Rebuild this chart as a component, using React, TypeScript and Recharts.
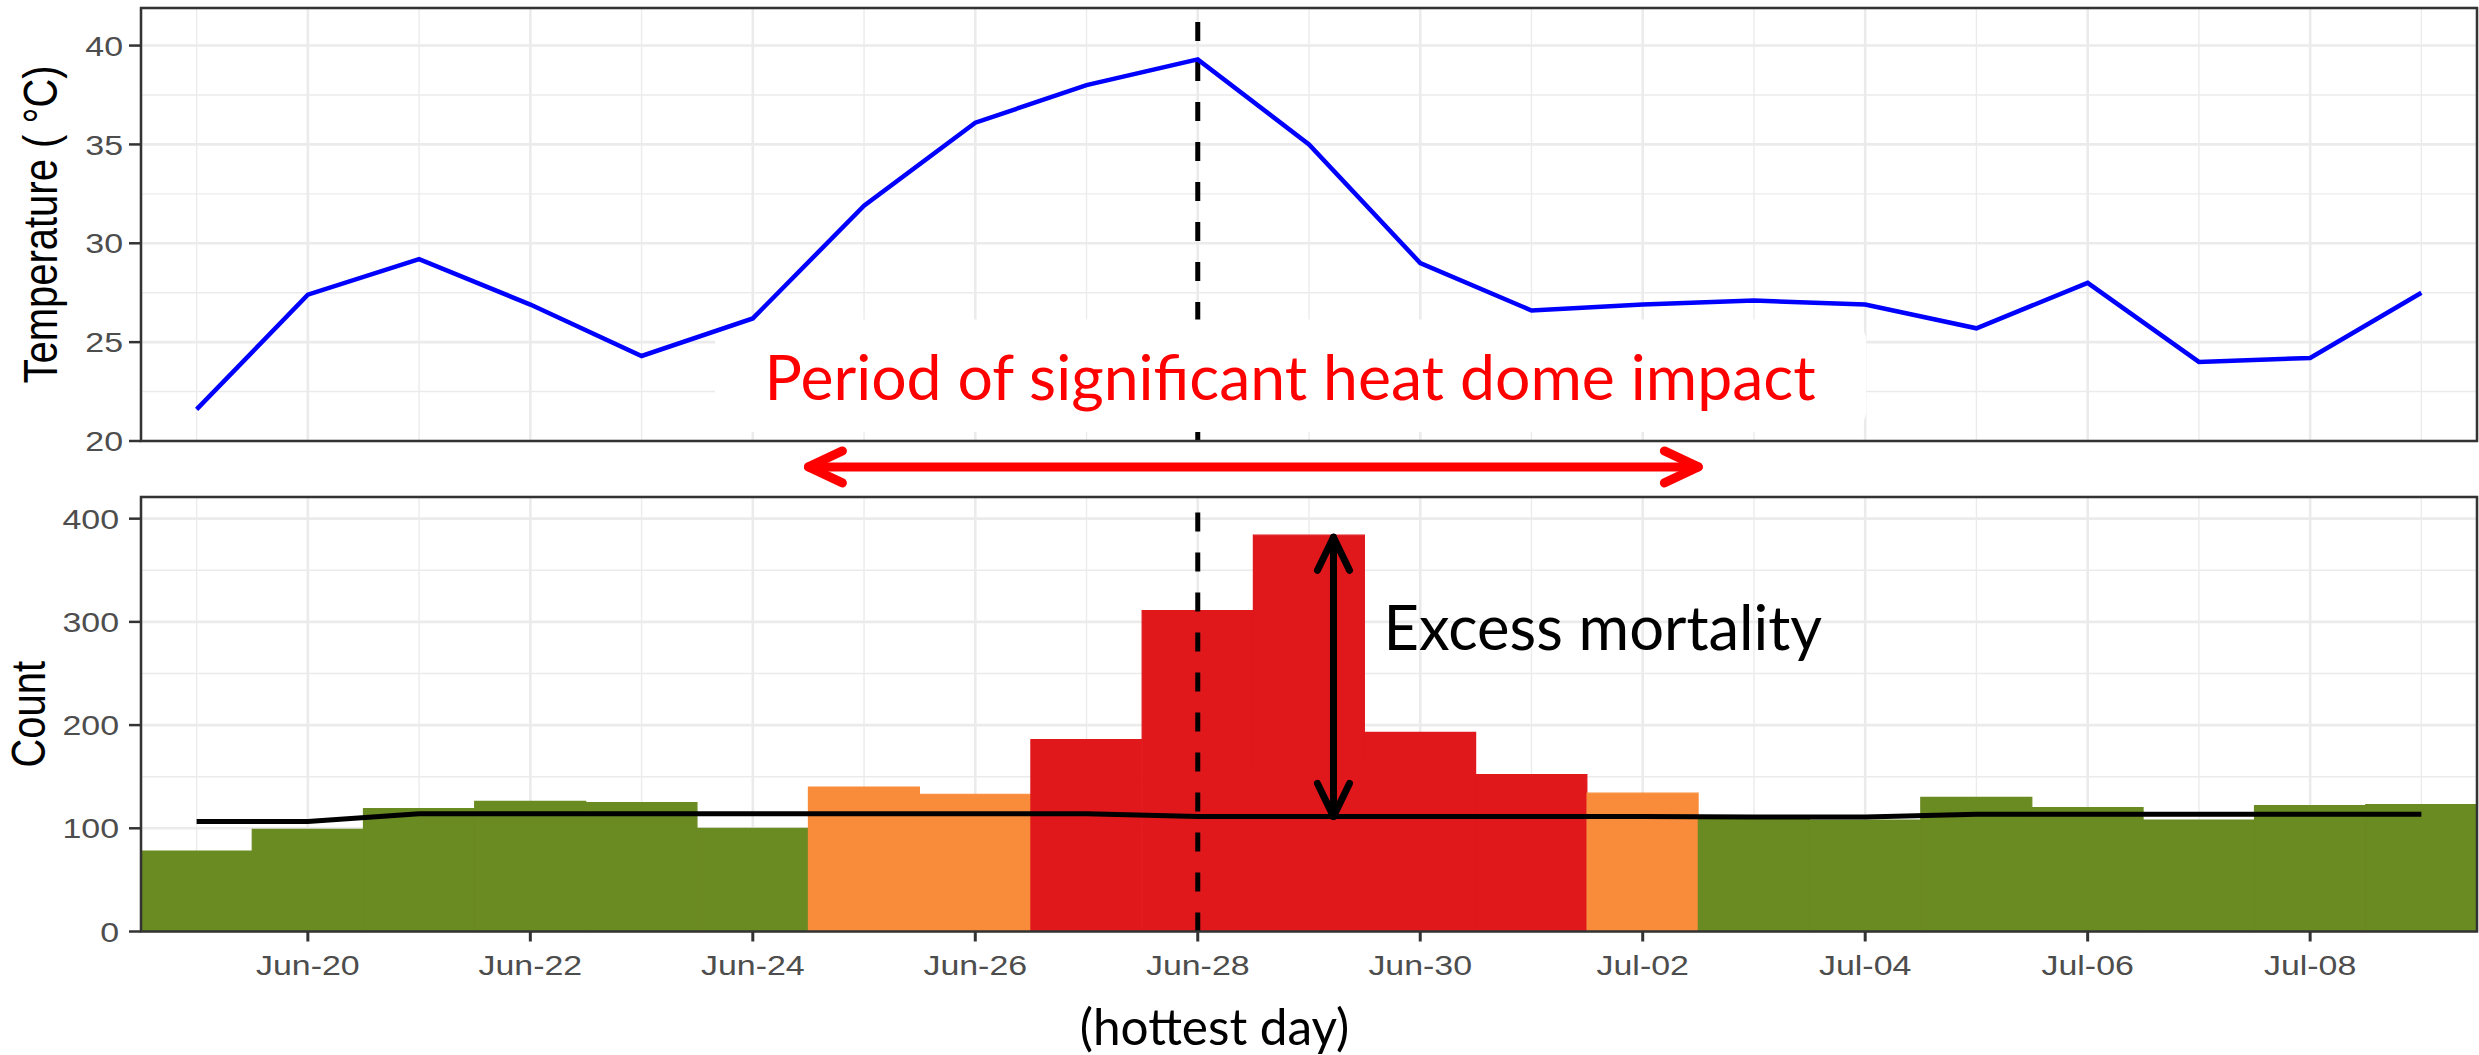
import {
  ComposedChart,
  Bar,
  Line,
  XAxis,
  YAxis,
  CartesianGrid,
  ReferenceLine,
  ReferenceArea,
  ReferenceDot,
  Cell,
} from 'recharts'

// ---- data ----
const DATES = [
  'Jun-19', 'Jun-20', 'Jun-21', 'Jun-22', 'Jun-23', 'Jun-24', 'Jun-25',
  'Jun-26', 'Jun-27', 'Jun-28', 'Jun-29', 'Jun-30', 'Jul-01', 'Jul-02',
  'Jul-03', 'Jul-04', 'Jul-05', 'Jul-06', 'Jul-07', 'Jul-08', 'Jul-09',
]
const FIRST_DAY = 19 // Jun-19, counted from Jun-01

const TEMPERATURE = [
  21.6, 27.4, 29.2, 26.9, 24.3, 26.2, 31.9, 36.1, 38.0, 39.3, 35.0,
  29.0, 26.6, 26.9, 27.1, 26.9, 25.7, 28.0, 24.0, 24.2, 27.5,
]
const DEATHS = [
  78, 99, 119, 126, 125, 100, 140, 133, 186, 311, 384,
  193, 152, 134, 111, 108, 130, 120, 108, 122, 123,
]
const BASELINE = [
  106.5, 106.5, 114, 114, 114, 114, 114, 114, 114, 111.5, 111.5,
  111.5, 111.5, 111.5, 111, 111, 113.5, 113.5, 113.5, 113.5, 113.5,
]
const PERIOD = [
  'normal', 'normal', 'normal', 'normal', 'normal', 'normal', 'moderate',
  'moderate', 'severe', 'severe', 'severe', 'severe', 'severe', 'moderate',
  'normal', 'normal', 'normal', 'normal', 'normal', 'normal', 'normal',
]

const X_TICKS = [20, 22, 24, 26, 28, 30, 32, 34, 36, 38]
const X_TICK_LABELS = ['Jun-20', 'Jun-22', 'Jun-24', 'Jun-26', 'Jun-28', 'Jun-30', 'Jul-02', 'Jul-04', 'Jul-06', 'Jul-08']
const X_MINOR = [19, 21, 23, 25, 27, 29, 31, 33, 35, 37, 39]
const TEMP_TICKS = [20, 25, 30, 35, 40]
const TEMP_MINOR = [22.5, 27.5, 32.5, 37.5]
const COUNT_TICKS = [0, 100, 200, 300, 400]
const COUNT_MINOR = [50, 150, 250, 350]

const HOTTEST_DAY = 28
const X_DOMAIN = [18.5, 39.5]
const TEMP_DOMAIN = [20, 41.9]
const COUNT_DOMAIN = [0, 421]

const COLORS: Record<string, string> = {
  normal: '#6A8A22',
  moderate: '#F98C3A',
  severe: '#E0181B',
}

const rows = DATES.map((date, i) => ({
  date,
  day: FIRST_DAY + i,
  temp: TEMPERATURE[i],
  deaths: DEATHS[i],
  baseline: BASELINE[i],
}))

// ---- styling ----
const W = 2479
const STRETCH = 1.19 // the ggplot part of the figure is stretched horizontally
const AXIS_FONT = '"Liberation Sans", Arial, sans-serif'
const NOTE_FONT = 'Lato, "Open Sans", sans-serif'
const GRID = '#EBEBEB'
const DARK = '#333333'

function XTick({ x, y, payload }: any) {
  const idx = X_TICKS.indexOf(payload.value)
  return (
    <text
      transform={`translate(${x},${y}) scale(${STRETCH},1)`}
      textAnchor="middle"
      dy="0.71em"
      fill="#4D4D4D"
      fontSize={28.5}
      fontFamily={AXIS_FONT}
    >
      {X_TICK_LABELS[idx]}
    </text>
  )
}

function YTick({ x, y, payload }: any) {
  return (
    <text
      transform={`translate(${x},${y}) scale(${STRETCH},1)`}
      textAnchor="end"
      dy="0.355em"
      fill="#4D4D4D"
      fontSize={28.5}
      fontFamily={AXIS_FONT}
    >
      {payload.value}
    </text>
  )
}

function axisTitle(text: string, cx: number) {
  return ({ viewBox }: any) => {
    const cy = viewBox.y + viewBox.height / 2
    return (
      <text
        transform={`translate(${viewBox.x + cx},${cy}) scale(${STRETCH},1) rotate(-90)`}
        textAnchor="middle"
        dy="0.355em"
        fill="#000"
        fontSize={40}
        fontFamily={AXIS_FONT}
      >
        {text}
      </text>
    )
  }
}

function DoubleArrow({ x1, y1, x2, y2, color, width, headLen, headHalf }: any) {
  const dx = x2 - x1
  const dy = y2 - y1
  const len = Math.hypot(dx, dy) || 1
  const ux = dx / len
  const uy = dy / len
  const px = -uy
  const py = ux
  const head = (tx: number, ty: number, s: number) =>
    `M${tx - s * ux * headLen + px * headHalf},${ty - s * uy * headLen + py * headHalf} L${tx},${ty} L${tx - s * ux * headLen - px * headHalf},${ty - s * uy * headLen - py * headHalf}`
  return (
    <g fill="none" stroke={color} strokeWidth={width} strokeLinecap="round" strokeLinejoin="round">
      <line x1={x1} y1={y1} x2={x2} y2={y2} />
      <path d={head(x2, y2, 1)} />
      <path d={head(x1, y1, -1)} />
    </g>
  )
}

function note(text: string, opts: { size: number; color: string; anchor: string }) {
  return ({ cx, cy }: any) => (
    <text
      x={cx}
      y={cy}
      textAnchor={opts.anchor}
      fill={opts.color}
      fontSize={opts.size}
      fontFamily={NOTE_FONT}
    >
      {text}
    </text>
  )
}

function TemperaturePanel() {
  return (
    <ComposedChart
      width={W}
      height={495}
      data={rows}
      margin={{ top: 8, right: 2, left: 0, bottom: 54 }}
    >
      <CartesianGrid xAxisId="minor" yAxisId="minor" stroke={GRID} strokeWidth={1.4} />
      <CartesianGrid stroke={GRID} strokeWidth={2.6} />
      <XAxis dataKey="day" type="number" domain={X_DOMAIN} ticks={X_TICKS} hide allowDataOverflow />
      <XAxis xAxisId="minor" dataKey="day" type="number" domain={X_DOMAIN} ticks={X_MINOR} hide allowDataOverflow />
      <YAxis
        type="number"
        domain={TEMP_DOMAIN}
        ticks={TEMP_TICKS}
        width={141}
        axisLine={false}
        tickLine={{ stroke: DARK, strokeWidth: 2.5 }}
        tickSize={12}
        tickMargin={6}
        tick={<YTick />}
        allowDataOverflow
        label={{ content: axisTitle('Temperature ( °C)', 40) }}
      />
      <YAxis yAxisId="minor" type="number" domain={TEMP_DOMAIN} ticks={TEMP_MINOR} hide allowDataOverflow />
      <ReferenceLine x={HOTTEST_DAY} stroke="#000" strokeWidth={5} strokeDasharray="19 21" zIndex={410} />
      <ReferenceArea x1={23.66} x2={34.01} y1={20.45} y2={26.15} fill="#fff" fillOpacity={1} stroke="none" radius={22} zIndex={420} />
      <Line dataKey="temp" stroke="#0000FF" strokeWidth={4.5} dot={false} isAnimationActive={false} zIndex={430} />
      <ReferenceDot
        x={28.83}
        y={22.05}
        r={0}
        shape={note('Period of significant heat dome impact', { size: 62.5, color: '#FF0000', anchor: 'middle' })}
        zIndex={440}
      />
      <ReferenceLine
        segment={[{ x: 24.5, y: 18.69 }, { x: 32.5, y: 18.69 }]}
        ifOverflow="visible"
        shape={(p: any) => <DoubleArrow {...p} color="#FF0000" width={9} headLen={34} headHalf={16} />}
        zIndex={440}
      />
      <ReferenceArea
        x1={X_DOMAIN[0]}
        x2={X_DOMAIN[1]}
        y1={TEMP_DOMAIN[0]}
        y2={TEMP_DOMAIN[1]}
        fill="none"
        stroke={DARK}
        strokeWidth={2.5}
        ifOverflow="visible"
        zIndex={500}
      />
    </ComposedChart>
  )
}

function MortalityPanel() {
  return (
    <ComposedChart
      width={W}
      height={565}
      data={rows}
      margin={{ top: 7, right: 2, left: 0, bottom: 0 }}
      barCategoryGap={0}
      barGap={0}
    >
      <CartesianGrid xAxisId="minor" yAxisId="minor" stroke={GRID} strokeWidth={1.4} />
      <CartesianGrid stroke={GRID} strokeWidth={2.6} />
      <XAxis
        dataKey="day"
        type="number"
        domain={X_DOMAIN}
        ticks={X_TICKS}
        height={123.5}
        axisLine={false}
        tickLine={{ stroke: DARK, strokeWidth: 3 }}
        tickSize={10}
        tickMargin={13}
        tick={<XTick />}
        allowDataOverflow
      />
      <XAxis xAxisId="minor" dataKey="day" type="number" domain={X_DOMAIN} ticks={X_MINOR} hide allowDataOverflow />
      <YAxis
        type="number"
        domain={COUNT_DOMAIN}
        ticks={COUNT_TICKS}
        width={141}
        axisLine={false}
        tickLine={{ stroke: DARK, strokeWidth: 2.5 }}
        tickSize={12}
        tickMargin={10}
        tick={<YTick />}
        allowDataOverflow
        label={{ content: axisTitle('Count', 28) }}
      />
      <YAxis yAxisId="minor" type="number" domain={COUNT_DOMAIN} ticks={COUNT_MINOR} hide allowDataOverflow />
      <Bar dataKey="deaths" isAnimationActive={false} zIndex={300}>
        {rows.map((_, i) => (
          <Cell key={i} fill={COLORS[PERIOD[i]]} stroke={COLORS[PERIOD[i]]} strokeWidth={1.2} />
        ))}
      </Bar>
      <Line dataKey="baseline" stroke="#000" strokeWidth={5} dot={false} isAnimationActive={false} zIndex={400} />
      <ReferenceLine x={HOTTEST_DAY} stroke="#000" strokeWidth={5} strokeDasharray="19 21" zIndex={410} />
      <ReferenceLine
        segment={[{ x: 29.22, y: 111.5 }, { x: 29.22, y: 382 }]}
        shape={(p: any) => <DoubleArrow {...p} color="#000" width={7} headLen={33} headHalf={16} />}
        zIndex={420}
      />
      <ReferenceDot
        x={29.67}
        y={272.6}
        r={0}
        shape={note('Excess mortality', { size: 61.5, color: '#000', anchor: 'start' })}
        zIndex={430}
      />
      <ReferenceDot
        x={28.15}
        y={-109.5}
        r={0}
        ifOverflow="visible"
        shape={note('(hottest day)', { size: 49.5, color: '#000', anchor: 'middle' })}
        zIndex={430}
      />
      <ReferenceArea
        x1={X_DOMAIN[0]}
        x2={X_DOMAIN[1]}
        y1={COUNT_DOMAIN[0]}
        y2={COUNT_DOMAIN[1]}
        fill="none"
        stroke={DARK}
        strokeWidth={2.5}
        ifOverflow="visible"
        zIndex={500}
      />
    </ComposedChart>
  )
}

export default function App() {
  return (
    <div style={{ position: 'absolute', left: 0, top: 0, width: W, height: 1055, background: '#fff', overflow: 'hidden' }}>
      <div style={{ position: 'absolute', left: 0, top: 0 }}>
        <TemperaturePanel />
      </div>
      <div style={{ position: 'absolute', left: 0, top: 490 }}>
        <MortalityPanel />
      </div>
    </div>
  )
}
